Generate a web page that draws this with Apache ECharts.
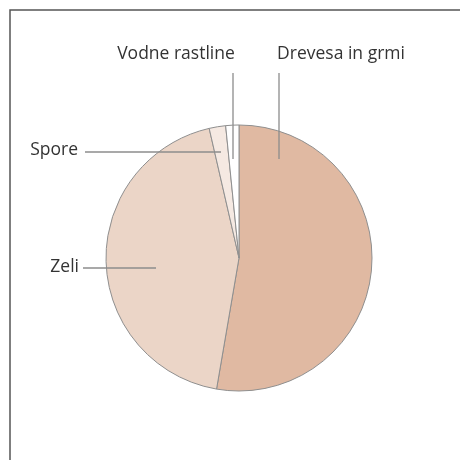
<!DOCTYPE html>
<html>
<head>
<meta charset="utf-8">
<script src="https://cdn.jsdelivr.net/npm/echarts@6/dist/echarts.min.js"></script>
<style>
  html, body { margin: 0; padding: 0; background: #fff; }
  #chart { width: 460px; height: 460px; }
</style>
</head>
<body>
<div id="chart"></div>
<script>
var names = ['Drevesa in grmi', 'Zeli', 'Spore', 'Vodne rastline'];
var values = [52.7, 43.7, 2.0, 1.6];
var colors = ['#e0b9a2', '#ebd5c7', '#f5e9e2', '#ffffff'];

// label placement: [labelX, labelY, align, lineX1, lineY1, lineX2, lineY2]
var labelPlaces = [
    [341, 54, 'center', 279, 73, 279, 159],
    [79, 267, 'right', 83, 268, 156, 268],
    [78, 150, 'right', 85, 152, 221, 152],
    [176, 54, 'center', 233, 73, 233, 159]
];

var dom = document.getElementById('chart');
var myChart = echarts.init(dom);

var data = names.map(function (n, i) {
    return { name: n, value: values[i], itemStyle: { color: colors[i] } };
});
// transparent copy on top, only for labels and leader lines
var overlay = names.map(function (n, i) {
    return { name: n, value: values[i] };
});

var option = {
    backgroundColor: '#fff',
    animation: false,
    graphic: [{
        type: 'polyline',
        shape: { points: [[10, 460], [10, 10], [460, 10]] },
        style: { stroke: '#555', lineWidth: 1.5, fill: null }
    }],
    series: [{
        type: 'pie',
        z: 2,
        center: [239, 258],
        radius: 133,
        startAngle: 90,
        clockwise: true,
        silent: true,
        data: data,
        itemStyle: { borderColor: '#8f8f8f', borderWidth: 1 },
        label: { show: false },
        labelLine: { show: false }
    }, {
        type: 'pie',
        z: 5,
        center: [239, 258],
        radius: 133,
        startAngle: 90,
        clockwise: true,
        silent: true,
        data: overlay,
        itemStyle: { color: 'rgba(0,0,0,0)', borderWidth: 0 },
        label: {
            show: true,
            position: 'outside',
            formatter: '{b}',
            overflow: 'none',
            fontFamily: 'Open Sans',
            fontSize: 17.5,
            color: '#333'
        },
        labelLine: {
            show: true,
            lineStyle: { color: '#8c8c8c', width: 1.3 }
        },
        labelLayout: function (params) {
            var p = labelPlaces[params.dataIndex];
            return {
                x: p[0],
                y: p[1],
                align: p[2],
                verticalAlign: 'middle',
                labelLinePoints: [[p[3], p[4]], [(p[3] + p[5]) / 2, (p[4] + p[6]) / 2], [p[5], p[6]]]
            };
        }
    }]
};

myChart.setOption(option, true);
</script>
</body>
</html>
